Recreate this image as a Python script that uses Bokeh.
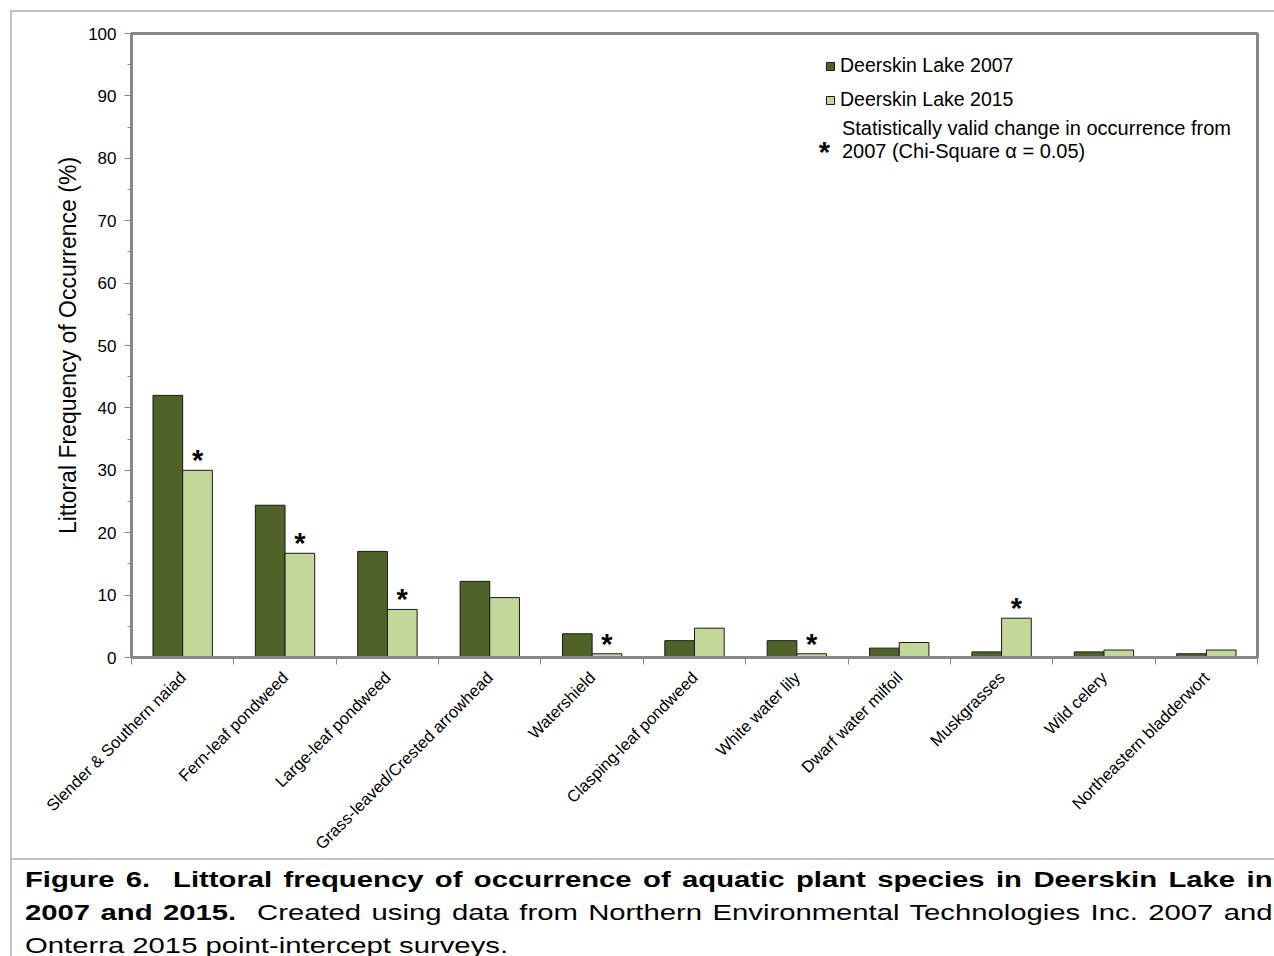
from math import pi

from bokeh.core.properties import value
from bokeh.embed import file_html
from bokeh.layouts import column
from bokeh.models import (ColumnDataSource, Div, FixedTicker, Label, Legend,
                          LegendItem, Range1d)
from bokeh.plotting import figure
from bokeh.resources import INLINE

# Littoral frequency of occurrence (%) per species
species = [
    "Slender & Southern naiad",
    "Fern-leaf pondweed",
    "Large-leaf pondweed",
    "Grass-leaved/Crested arrowhead",
    "Watershield",
    "Clasping-leaf pondweed",
    "White water lily",
    "Dwarf water milfoil",
    "Muskgrasses",
    "Wild celery",
    "Northeastern bladderwort",
]
freq_2007 = [42.0, 24.4, 17.0, 12.2, 3.8, 2.7, 2.7, 1.5, 0.9, 0.9, 0.6]
freq_2015 = [30.0, 16.7, 7.7, 9.6, 0.6, 4.7, 0.6, 2.4, 6.3, 1.2, 1.2]
significant = [True, True, True, False, True, False, True, False, True, False, False]
y_ticks = list(range(0, 101, 10))

FONT = "Liberation Sans"
DARK = "#4f6228"
LIGHT = "#c4d79b"
AXIS_GREY = "#878787"

centers = [i + 0.5 for i in range(len(species))]
bar_w = 0.29
src = ColumnDataSource(dict(
    x07=[c - bar_w / 2 for c in centers],
    x15=[c + bar_w / 2 for c in centers],
    v07=freq_2007,
    v15=freq_2015,
))

p = figure(width=1264, height=850, output_backend="svg", toolbar_location=None,
           x_range=Range1d(0, len(species)), y_range=Range1d(0, 100),
           min_border_left=119, min_border_top=21, min_border_right=19,
           min_border_bottom=201)
p.margin = (10, 0, 0, 10)
p.styles = {"border-top": "2px solid #c0c0c0", "border-left": "2px solid #c0c0c0",
            "border-bottom": "2px solid #c0c0c0"}
p.xgrid.visible = False
p.ygrid.visible = False
p.outline_line_color = AXIS_GREY
p.outline_line_width = 3
p.background_fill_color = "white"
p.border_fill_color = "white"

r07 = p.vbar(x="x07", top="v07", width=bar_w, source=src,
             fill_color=DARK, line_color="#1a1a1a", line_width=1)
r15 = p.vbar(x="x15", top="v15", width=bar_w, source=src,
             fill_color=LIGHT, line_color="#1a1a1a", line_width=1)

# asterisks over the 2015 bars with a significant change
sig_x = [c + bar_w / 2 for c, s in zip(centers, significant) if s]
sig_y = [v for v, s in zip(freq_2015, significant) if s]
p.text(x=sig_x, y=sig_y, text=["*"] * len(sig_x), y_offset=-10,
       text_align="center", text_baseline="alphabetic",
       text_font=value(FONT), text_font_style="bold", text_font_size="29px",
       text_color="black")

# y axis
ya = p.yaxis[0]
ya.ticker = FixedTicker(ticks=y_ticks, minor_ticks=list(range(5, 100, 10)))
ya.axis_line_color = AXIS_GREY
ya.axis_line_width = 3
ya.major_tick_line_color = AXIS_GREY
ya.minor_tick_line_color = AXIS_GREY
ya.major_tick_out = 7
ya.major_tick_in = 0
ya.minor_tick_out = 4
ya.minor_tick_in = 0
ya.major_label_text_font = FONT
ya.major_label_text_font_size = "17px"
ya.major_label_text_color = "black"
ya.major_label_standoff = 8
ya.axis_label = "Littoral Frequency of Occurrence (%)"
ya.axis_label_text_font = FONT
ya.axis_label_text_font_size = "23px"
ya.axis_label_text_font_style = "normal"
ya.axis_label_text_color = "black"
ya.axis_label_standoff = 4

# x axis: labels at category centres, tick marks at category boundaries
xa = p.xaxis[0]
xa.ticker = FixedTicker(ticks=centers, minor_ticks=list(range(0, len(species) + 1)))
xa.major_label_overrides = {c: s for c, s in zip(centers, species)}
xa.major_label_orientation = pi / 4
xa.axis_line_color = AXIS_GREY
xa.axis_line_width = 3
xa.major_tick_out = 0
xa.major_tick_in = 0
xa.minor_tick_line_color = AXIS_GREY
xa.minor_tick_out = 7
xa.minor_tick_in = 0
xa.major_label_text_font = FONT
xa.major_label_text_font_size = "16.5px"
xa.major_label_text_color = "black"
xa.major_label_standoff = 10

legend = Legend(items=[LegendItem(label="Deerskin Lake 2007", renderers=[r07]),
                       LegendItem(label="Deerskin Lake 2015", renderers=[r15])],
                location=(694, 546), orientation="vertical")
legend.glyph_width = 10
legend.glyph_height = 10
legend.label_text_font = FONT
legend.label_text_font_size = "19.5px"
legend.label_text_color = "black"
legend.label_standoff = 5
legend.label_height = 20
legend.spacing = 11
legend.padding = 0
legend.margin = 0
legend.border_line_color = None
legend.background_fill_alpha = 0
p.add_layout(legend)

note_kw = dict(text_font=FONT, text_font_size="20px", text_color="black",
               text_baseline="middle")
p.add_layout(Label(x=6.77, y=81.0, text="*", text_align="center",
                   text_font=FONT, text_font_size="29px", text_font_style="bold",
                   text_baseline="middle", text_color="black"))
p.add_layout(Label(x=6.94, y=84.8, text="Statistically valid change in occurrence from",
                   **note_kw))
p.add_layout(Label(x=6.94, y=81.1, text="2007 (Chi-Square \u03b1 = 0.05)", **note_kw))

# caption set in a wide-running face: 22px glyphs stretched horizontally
stretch = 1.33
inner_w = round(1247 / stretch)
line_css = f"width:{inner_w}px;text-align:justify;text-align-last:justify;white-space:nowrap;"
caption_html = (
    f"<div style=\"font-family:'{FONT}',Arial,sans-serif;font-size:22px;"
    f"line-height:33px;color:#000;width:{inner_w}px;"
    f"transform:scaleX({stretch});transform-origin:0 0;\">"
    f"<div style=\"{line_css}\"><b>Figure 6.&nbsp; Littoral frequency of occurrence of "
    "aquatic plant species in Deerskin Lake in</b></div>"
    f"<div style=\"{line_css}\"><b>2007 and 2015.</b>&nbsp; Created using data from "
    "Northern Environmental Technologies Inc. 2007 and</div>"
    "<div style=\"white-space:nowrap;\">Onterra 2015 point-intercept surveys.</div></div>"
)
caption = Div(text=caption_html, width=1264, height=96, margin=(0, 0, 0, 10),
              styles={"border-left": "2px solid #c0c0c0", "padding-left": "13px",
                      "padding-top": "3px", "overflow": "visible",
                      "box-sizing": "border-box"})

layout = column(p, caption, spacing=0)
open("out.html", "w").write(file_html(layout, INLINE))
